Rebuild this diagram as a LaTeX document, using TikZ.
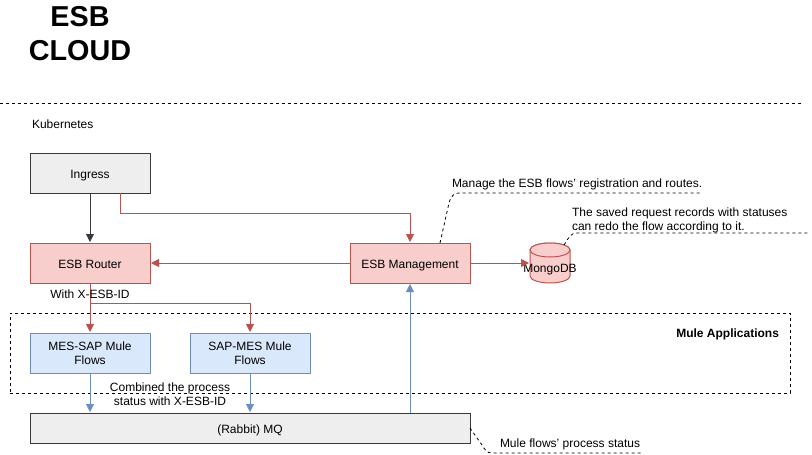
\documentclass[tikz,border=0pt]{standalone}
\usepackage{fontspec}
\setmainfont{Liberation Sans}
\usetikzlibrary{arrows.meta,calc,shapes.geometric}
\definecolor{redline}{HTML}{B85450}
\definecolor{redfill}{HTML}{F8CECC}
\definecolor{blueline}{HTML}{6C8EBF}
\definecolor{bluefill}{HTML}{DAE8FC}
\definecolor{greyline}{HTML}{36393D}
\definecolor{greyfill}{HTML}{EEEEEE}
\tikzset{
  x=1pt,y=-1pt,
  every node/.style={font=\fontsize{12}{14}\selectfont,text=black,inner sep=0pt,outer sep=0pt},
  boxbase/.style={draw,line width=1pt,align=center,minimum height=40pt,minimum width=120pt},
  oneline/.style={text height=12pt,text depth=2pt},
  twoline/.style={execute at begin node={\rule{0pt}{13pt}}},
  redbox/.style={boxbase,draw=redline,fill=redfill},
  bluebox/.style={boxbase,draw=blueline,fill=bluefill},
  greybox/.style={boxbase,draw=greyline,fill=greyfill},
  tipbase/.style={line width=.95pt,shorten >=1pt,-{Triangle[length=8pt,width=8pt]}},
  redarrow/.style={tipbase,draw=redline,color=redline},
  bluearrow/.style={tipbase,draw=blueline,color=blueline},
  greyarrow/.style={tipbase,draw=greyline,color=greyline},
  dashline/.style={draw=black,line width=.8pt,dash pattern=on 3pt off 3pt},
  note/.style={anchor=west,align=left},
}
\begin{document}
\begin{tikzpicture}
\useasboundingbox (0,0) rectangle (812,455);
% frames
\coordinate (ruleL) at (0,103);
\coordinate (ruleR) at (801,103);
\draw[dashline] (ruleL) -- (ruleR);
\node[dashline,draw,minimum width=780pt,minimum height=80pt,anchor=north west] (mule) at (10,313) {};
% title and labels
\node[font=\bfseries\fontsize{28.8}{34}\selectfont,align=center] (title) at (80,34) {ESB\\CLOUD};
\node[note] (kube) at (32,124) {Kubernetes};
\node[anchor=east,font=\bfseries\fontsize{12}{14}\selectfont] (mulelabel) at (779,334) {Mule Applications};
% boxes
\node[greybox,oneline] (ingress) at (90,173) {Ingress};
\node[redbox,oneline] (router) at (90,263) {ESB Router};
\node[redbox,oneline] (mgmt) at (410,263) {ESB Management};
\node[bluebox,twoline] (messap) at (90,353) {MES-SAP Mule\\Flows};
\node[bluebox,twoline] (sapmes) at (250,353) {SAP-MES Mule\\Flows};
\node[greybox,oneline,minimum width=440pt,minimum height=30pt] (mq) at (250,428) {(Rabbit) MQ};
% cylinder
\coordinate (cylL) at (530,263);
\draw[redline,fill=redfill,line width=1pt]
  (530,250) arc[start angle=180,end angle=360,x radius=20pt,y radius=-7pt]
  -- (570,276) arc[start angle=0,end angle=180,x radius=20pt,y radius=-7pt] -- cycle;
\draw[redline,fill=redfill,line width=1pt]
  (530,250) arc[start angle=180,end angle=0,x radius=20pt,y radius=-7pt]
  arc[start angle=0,end angle=-180,x radius=20pt,y radius=-7pt] -- cycle;
\node (mongo) at (550,270) {MongoDB};
% connectors
\draw[greyarrow] (ingress) -- (router);
\coordinate (ingout) at ($(ingress.south)+(30,0)$);
\draw[redarrow] (ingout) -- ++(0,20) -| (mgmt.north);
\draw[redarrow] (mgmt) -- (router);
\draw[redarrow] (mgmt) -- (cylL);
\draw[redarrow] (router) -- (messap);
\draw[redarrow] (router.south) -- ++(0,20) -| (sapmes.north);
\draw[bluearrow] (messap) -- (messap |- mq.north);
\draw[bluearrow] (sapmes) -- (sapmes |- mq.north);
\draw[bluearrow] (mgmt.south |- mq.north) -- (mgmt.south);
% connector labels
\node (withid) at (90,294) {With X-ESB-ID};
\node[align=center] (combined) at (170,394.5) {Combined the process\\status with X-ESB-ID};
% annotations
\node[note] (note1) at (452,184.5) {Manage the ESB flows' registration and routes.};
\node[note] (note2) at (572,220) {The saved request records with statuses\\can redo the flow according to it.};
\node[note] (note3) at (500,444.5) {Mule flows' process status};
\coordinate (n1e) at (700,193);
\coordinate (n2e) at (808,233);
\coordinate (n3e) at (641,453);
\coordinate (a1) at (440,243);
\coordinate (a2) at (564,245);
\coordinate (a3) at (470,428);
\draw[dashline] (a1) -- (449,203) .. controls (451,196) and (454,193) .. (459,193) -- (n1e);
\draw[dashline] (a2) .. controls (569,237) and (571,233) .. (577,233) -- (n2e);
\draw[dashline] (a3) -- (482,445) .. controls (485,450) and (487,453) .. (492,453) -- (n3e);
\end{tikzpicture}
\end{document}
